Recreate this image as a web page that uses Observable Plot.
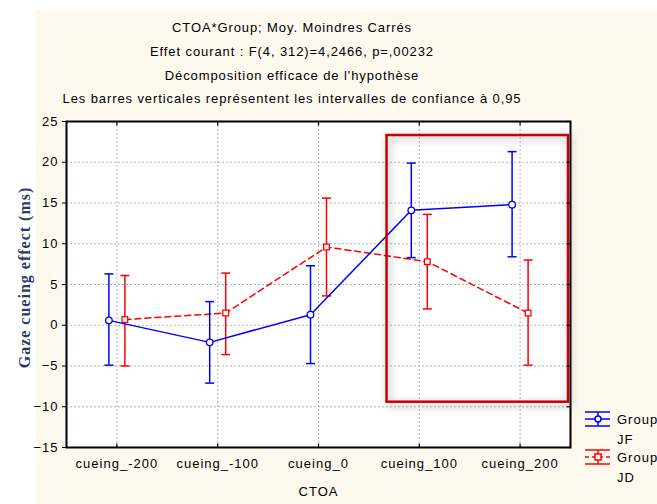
<!DOCTYPE html>
<html>
<head>
<meta charset="utf-8">
<script src="https://cdn.jsdelivr.net/npm/d3@7"></script>
<script src="https://cdn.jsdelivr.net/npm/@observablehq/plot@0.6"></script>
<style>
  body { margin: 0; background: #ffffff; font-family: "Liberation Sans", Arial, sans-serif; }
  #wrap { position: relative; width: 657px; height: 504px; overflow: hidden; }
  #panel { position: absolute; left: 36px; top: 10px; right: 0; bottom: 0; background: #fef9ef; }
  .t { position: absolute; left: 0; width: 584px; text-align: center; font-size: 13px; line-height: 16px; letter-spacing: 0.9px; color: #000; white-space: nowrap; }
  #chart { position: absolute; left: 0; top: 110px; }
  #legend { position: absolute; left: 580px; top: 400px; }
</style>
</head>
<body>
<div id="wrap">
  <div id="panel"></div>
  <div class="t" id="t1" style="top:20px"></div>
  <div class="t" id="t2" style="top:44px"></div>
  <div class="t" id="t3" style="top:68px"></div>
  <div class="t" id="t4" style="top:91px"></div>
  <div id="chart"></div>
  <div id="legend"></div>
</div>
<script>
// ---- data ----
const titleLines = [
  "CTOA*Group; Moy. Moindres Carrés",
  "Effet courant : F(4, 312)=4,2466, p=,00232",
  "Décomposition efficace de l'hypothèse",
  "Les barres verticales représentent les intervalles de confiance à 0,95"
];
const ctoa = ["cueing_-200", "cueing_-100", "cueing_0", "cueing_100", "cueing_200"];
const groups = ["JF", "JD"];
const groupColors = ["#0000ff", "#ff0000"];
const jfMean = [0.6, -2.1, 1.3, 14.1, 14.8];
const jfLow  = [-4.9, -7.1, -4.7, 8.3, 8.4];
const jfHigh = [6.3, 2.9, 7.3, 19.9, 21.3];
const jdMean = [0.7, 1.5, 9.6, 7.8, 1.5];
const jdLow  = [-5.0, -3.6, 3.6, 2.0, -4.9];
const jdHigh = [6.1, 6.4, 15.6, 13.6, 8.0];
const yTicks = [-15, -10, -5, 0, 5, 10, 15, 20, 25];
const yLabel = "Gaze cueing effect (ms)";
const xLabel = "CTOA";
const highlight = [{x1: 2.68, x2: 4.48, y1: -9.44, y2: 23.28}];

// ---- titles ----
titleLines.forEach((s, k) => { document.getElementById("t" + (k + 1)).textContent = s; });

// ---- rows ----
const mk = (g, mean, low, high) => ctoa.map((c, i) => ({group: g, i, mean: mean[i], low: low[i], high: high[i]}));
const jf = mk(groups[0], jfMean, jfLow, jfHigh);
const jd = mk(groups[1], jdMean, jdLow, jdHigh);
const xIdx = d3.range(ctoa.length);

// custom symbols (size = pi r^2)
const rad = size => Math.sqrt(size / Math.PI);
const hbar = { draw(ctx, size) { const r = rad(size); ctx.moveTo(-r, 0); ctx.lineTo(r, 0); } };
const tickUp = { draw(ctx, size) { const r = rad(size); ctx.moveTo(0, 0); ctx.lineTo(0, -r); } };
const tickDown = { draw(ctx, size) { const r = rad(size); ctx.moveTo(0, 0); ctx.lineTo(0, r); } };
const tickLeft = { draw(ctx, size) { const r = rad(size); ctx.moveTo(0, 0); ctx.lineTo(-r, 0); } };

function seriesMarks(rows, color, dx, dash, symbol) {
  return [
    Plot.line(rows, {x: "i", y: "mean", stroke: color, strokeWidth: 1.5, strokeDasharray: dash, dx}),
    Plot.ruleX(rows, {x: "i", y1: "low", y2: "high", stroke: color, strokeWidth: 1.5, dx}),
    Plot.dot(rows, {x: "i", y: "low", symbol: hbar, r: 4.5, stroke: color, strokeWidth: 1.5, dx}),
    Plot.dot(rows, {x: "i", y: "high", symbol: hbar, r: 4.5, stroke: color, strokeWidth: 1.5, dx}),
    Plot.dot(rows, {x: "i", y: "mean", symbol, r: symbol === "circle" ? 3.3 : 3.2, fill: "white", stroke: color, strokeWidth: 1.3, dx})
  ];
}

const gridStyle = {stroke: "#b4b4b4", strokeOpacity: 1, strokeWidth: 1, strokeDasharray: "2,2"};

const chart = Plot.plot({
  width: 657,
  height: 394,
  marginLeft: 66,
  marginRight: 87,
  marginTop: 11,
  marginBottom: 57,
  style: {background: "transparent", fontFamily: "Liberation Sans, Arial, sans-serif", fontSize: "13px", letterSpacing: "1px", color: "#000", overflow: "visible"},
  x: {domain: [-0.5, ctoa.length - 0.5]},
  y: {domain: [yTicks[0], yTicks[yTicks.length - 1]]},
  marks: [
    Plot.frame({fill: "white", stroke: null}),
    Plot.gridY(yTicks, gridStyle),
    Plot.gridX(xIdx, gridStyle),
    Plot.axisY(yTicks, {tickSize: 4, tickPadding: 4, label: null, fontSize: 13}),
    Plot.axisX(xIdx, {tickSize: 0, tickPadding: 11, label: null, fontSize: 13, tickFormat: i => ctoa[i]}),
    ...seriesMarks(jd, groupColors[1], 8, "6,4", "square"),
    ...seriesMarks(jf, groupColors[0], -8, null, "circle"),
    Plot.rect(highlight, {x1: "x1", x2: "x2", y1: "y1", y2: "y2", fill: "none", stroke: "#c80000", strokeWidth: 2.5}),
    Plot.frame({stroke: "black", strokeWidth: 2}),
    // inward ticks on bottom, top and right edges
    Plot.dot(xIdx, {x: d => d, frameAnchor: "bottom", symbol: tickUp, r: 4, stroke: "black", strokeWidth: 1.2}),
    Plot.dot(xIdx, {x: d => d, frameAnchor: "top", symbol: tickDown, r: 4, stroke: "black", strokeWidth: 1.2}),
    Plot.dot(yTicks, {y: d => d, frameAnchor: "right", symbol: tickLeft, r: 4, stroke: "black", strokeWidth: 1.2}),
    Plot.text([yLabel], {frameAnchor: "left", rotate: -90, dx: -42, dy: -7, textAnchor: "middle", lineAnchor: "middle",
      fontFamily: "Liberation Serif, Times New Roman, serif", fontWeight: "bold", fontSize: 16, fill: "#2e3a66"}),
    Plot.text([xLabel], {frameAnchor: "bottom", dy: 44, textAnchor: "middle", lineAnchor: "middle", fontSize: 13, fill: "black"})
  ]
});
d3.select(chart).select('g[aria-label="rect"]').style("filter", "drop-shadow(2px 3px 4px rgba(0,0,0,0.35))");
document.getElementById("chart").appendChild(chart);

// ---- legend ----
const leg = d3.select("#legend").append("svg").attr("width", 77).attr("height", 90)
  .style("font-family", "Liberation Sans, Arial, sans-serif").style("font-size", "13px").style("letter-spacing", "1px");
groups.forEach((g, k) => {
  const cy = 19 + k * 38, c = groupColors[k];
  const gg = leg.append("g").attr("stroke", c).attr("stroke-width", 1.5).attr("fill", "none");
  gg.append("line").attr("x1", 5).attr("x2", 30).attr("y1", cy - 7).attr("y2", cy - 7);
  gg.append("line").attr("x1", 5).attr("x2", 30).attr("y1", cy + 7).attr("y2", cy + 7);
  gg.append("line").attr("x1", 5).attr("x2", 30).attr("y1", cy).attr("y2", cy).attr("stroke-dasharray", k ? "4,3" : null);
  gg.append("line").attr("x1", 18).attr("x2", 18).attr("y1", cy - 7).attr("y2", cy + 7);
  if (k === 0) gg.append("circle").attr("cx", 18).attr("cy", cy).attr("r", 3).attr("fill", "white");
  else gg.append("rect").attr("x", 15).attr("y", cy - 3).attr("width", 6).attr("height", 6).attr("fill", "white");
  leg.append("text").attr("x", 37).attr("y", cy).attr("dy", "0.35em").text("Group");
  leg.append("text").attr("x", 37).attr("y", cy + 20).attr("dy", "0.35em").text(g);
});
</script>
</body>
</html>
